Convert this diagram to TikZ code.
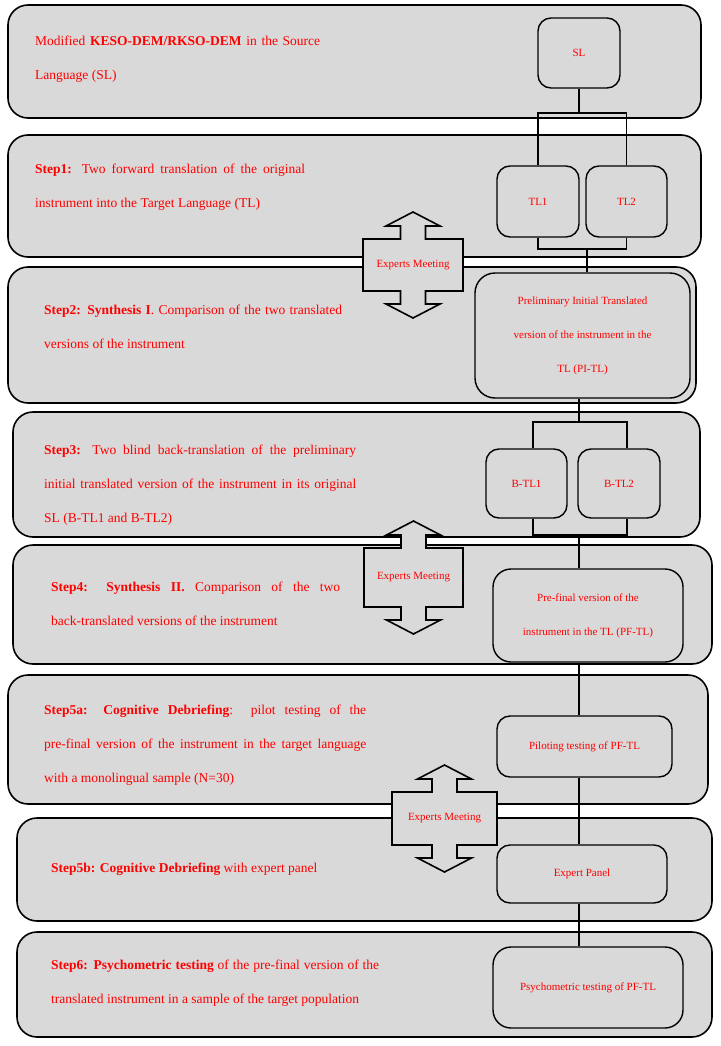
\documentclass[tikz,border=0pt]{standalone}
\usepackage{fontspec}
\setmainfont{Liberation Serif}
\usetikzlibrary{positioning}
\definecolor{panelgray}{HTML}{D9D9D9}
\definecolor{stepred}{HTML}{FF0000}
\hyphenpenalty=10000
\exhyphenpenalty=10000
\tikzset{
panel/.style={draw, line width=1.6pt, fill=panelgray, rounded corners=20pt}, % the grey band of each step
box/.style={draw, line width=1.4pt, fill=panelgray, rounded corners=13pt, text=stepred, align=center, inner sep=0pt, font=\fontsize{11}{34}\selectfont}, % versions on the right
steptext/.style={anchor=base west, inner sep=0pt, align=justify, text=stepred, font=\fontsize{13.5}{33.8}\selectfont}, % text of a step
link/.style={draw, line width=1.2pt}, % plain connecting lines
meeting/.style={draw, line width=1.6pt, fill=panelgray, line join=miter}, % the double arrow
meettext/.style={text=stepred, inner sep=0pt, font=\fontsize{11}{12}\selectfont},
}
% double arrow with a box in the middle: name, centre, half height, half width
\newcommand{\meetarrow}[4]{%
  \draw[meeting, shift={#2}] (0,{-#3-27}) -- (27,{-#3-13}) -- (12.5,{-#3-13}) -- (12.5,-#3) -- (#4,-#3) -- (#4,#3)
    -- (12.5,#3) -- (12.5,{#3+13}) -- (27,{#3+13}) -- (0,{#3+27}) -- (-27,{#3+13}) -- (-12.5,{#3+13})
    -- (-12.5,#3) -- (-#4,#3) -- (-#4,-#3) -- (-12.5,-#3) -- (-12.5,{-#3-13}) -- (-27,{-#3-13}) -- cycle;
  \node[meettext] (#1) at #2 {Experts Meeting};
}
\begin{document}
\begin{tikzpicture}[x=1pt, y=-1pt]
\fill[white] (0,0) rectangle (720,1046);
\useasboundingbox (0,0) rectangle (720,1046);
% bands
\draw[panel] (8,5) rectangle (701,118);
\draw[panel] (8,135) rectangle (701,257);
\draw[panel] (8,267) rectangle (696,403);
\draw[panel] (13,412) rectangle (700,537);
\draw[panel] (13,545) rectangle (712,664);
\draw[panel] (8,675) rectangle (708,804);
\draw[panel] (17,818) rectangle (712,921);
\draw[panel] (17,932) rectangle (712,1037);
% step texts
\node[steptext, text width=285pt] (source) at (35,45.5) {Modified \textbf{KESO-DEM/RKSO-DEM} in the Source\linebreak Language (SL)};
\node[steptext, text width=270pt] (step1) at (35,173.5) {\textbf{Step1:} Two forward translation of the original\linebreak instrument into the Target Language (TL)};
\node[steptext, text width=298pt] (step2) at (44,314.5) {\textbf{Step2: Synthesis I}. Comparison of the two translated\linebreak versions of the instrument};
\node[steptext, text width=312pt] (step3) at (44,454.5) {\textbf{Step3:} Two blind back-translation of the preliminary\linebreak initial translated version of the instrument in its original\linebreak SL (B-TL1 and B-TL2)};
\node[steptext, text width=289pt] (step4) at (51,591.5) {\textbf{Step4: Synthesis II.} Comparison of the two\linebreak back-translated versions of the instrument};
\node[steptext, text width=322pt] (step5a) at (44,714.5) {\textbf{Step5a: Cognitive Debriefing}:\ \ pilot testing of the\linebreak pre-final version of the instrument in the target language\linebreak with a monolingual sample (N=30)};
\node[steptext, text width=320pt] (step5b) at (51,872.5) {\textbf{Step5b: Cognitive Debriefing} with expert panel};
\node[steptext, text width=328pt] (step6) at (51,969.5) {\textbf{Step6: Psychometric testing} of the pre-final version of the\linebreak translated instrument in a sample of the target population};
% versions
\node[box, minimum width=82pt, minimum height=70pt] (sl) at (579,53) {SL};
\node[box, minimum width=82pt, minimum height=71pt] (tl1) at (538,201.5) {TL1};
\node[box, minimum width=81pt, minimum height=71pt] (tl2) at (626.5,201.5) {TL2};
\node[box, minimum width=215pt, minimum height=125pt, rounded corners=20pt] (pi_tl) at (582.5,335.5) {Preliminary Initial Translated\\version of the instrument in the\\TL (PI-TL)};
\node[box, minimum width=81pt, minimum height=69pt] (b_tl1) at (526.5,483.5) {B-TL1};
\node[box, minimum width=82pt, minimum height=69pt] (b_tl2) at (619,483.5) {B-TL2};
\node[box, minimum width=190pt, minimum height=93pt, rounded corners=18pt] (pf_tl) at (588,615.5) {Pre-final version of the\\instrument in the TL (PF-TL)};
\node[box, minimum width=175pt, minimum height=61pt] (pilot) at (584.5,746.5) {Piloting testing of PF-TL};
\node[box, minimum width=170pt, minimum height=58pt] (expert) at (582,874) {Expert Panel};
\node[box, minimum width=190pt, minimum height=81pt, rounded corners=18pt] (psycho) at (588,987.5) {Psychometric testing of PF-TL};
% connections
\coordinate (spine) at (579,0);
\coordinate (fork1) at (579,113);
\coordinate (join1) at (587,249);
\coordinate (fork2) at (579,422);
\coordinate (join2) at (579,535);
\draw[link] (sl) -- (fork1);
\draw[link] (tl1.north) |- (fork1) -| (tl2.north);
\draw[link] (tl1.south) |- (join1) -| (tl2.south);
\draw[link] (join1) -- (join1 |- pi_tl.north);
\draw[link] (pi_tl.south -| fork2) -- (fork2);
\draw[link] ([xshift=6.5pt]b_tl1.north) |- (fork2) -| ([xshift=8pt]b_tl2.north);
\draw[link] ([xshift=6.5pt]b_tl1.south) |- (join2) -| ([xshift=8pt]b_tl2.south);
\draw[link] (join2) -- (join2 |- pf_tl.north);
\draw[link] (pf_tl.south -| spine) -- (pilot.north -| spine);
\draw[link] (pilot.south -| spine) -- (expert.north -| spine);
\draw[link] (expert.south -| spine) -- (psycho.north -| spine);
% expert meetings
\meetarrow{meet1}{(413,265)}{26}{50}
\meetarrow{meet2}{(413.5,577.5)}{29.5}{49.5}
\meetarrow{meet3}{(444.5,818.5)}{26.5}{52.5}
\end{tikzpicture}
\end{document}
